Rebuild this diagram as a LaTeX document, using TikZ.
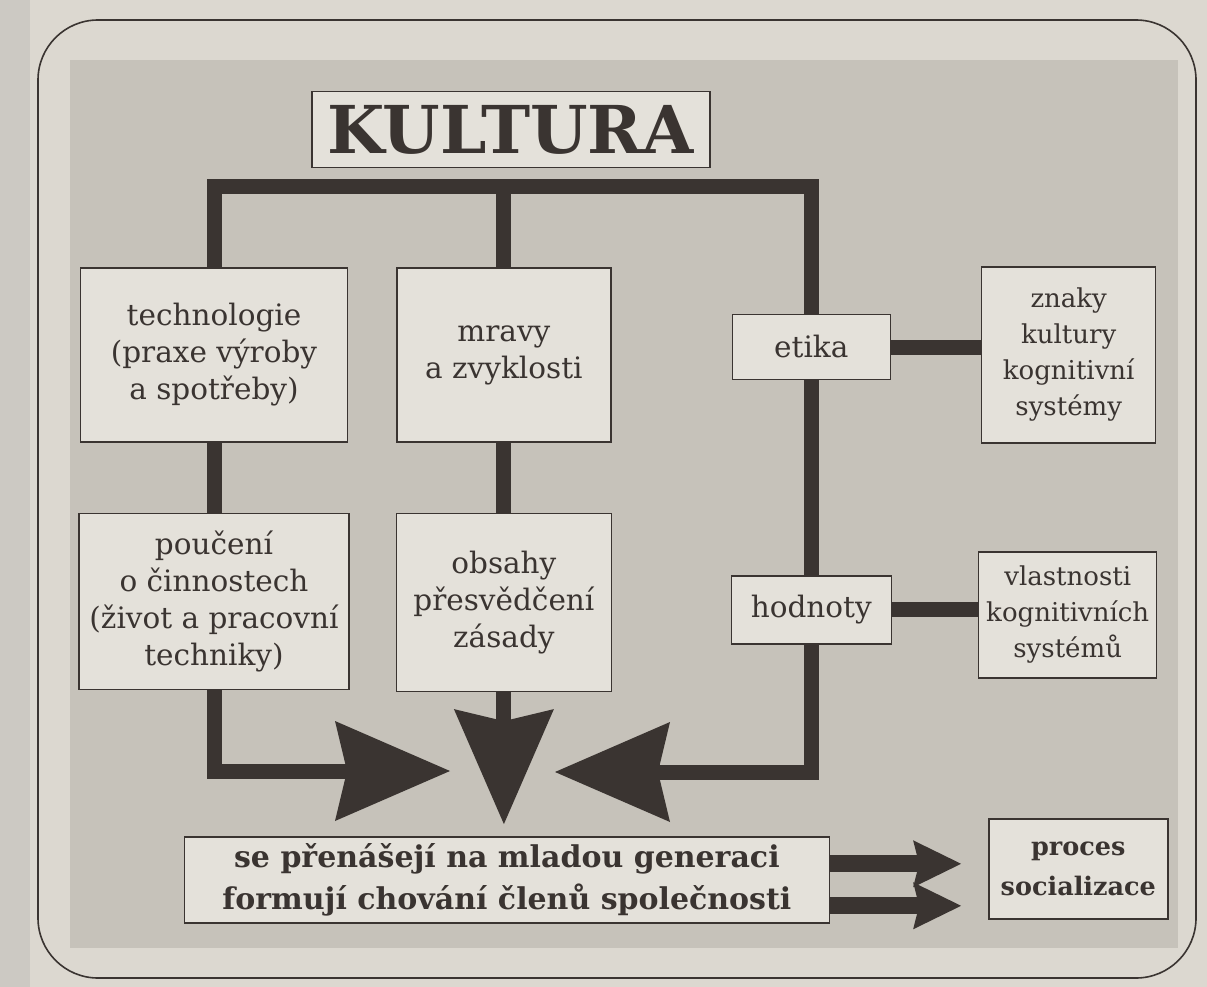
\documentclass[tikz,border=0pt]{standalone}
\usepackage{fontspec}
\setmainfont{DejaVu Serif}
\usetikzlibrary{arrows.meta, positioning}

\definecolor{ink}{HTML}{3A3431}
\definecolor{paper}{HTML}{DCD8D0}
\definecolor{pageedge}{HTML}{CCC9C3}
\definecolor{screen}{HTML}{C6C2BA}
\definecolor{boxfill}{HTML}{E4E1DA}

\begin{document}
\begin{tikzpicture}[
      x=1pt, y=1pt,
      node distance=70pt,
      box/.style={
          rectangle,
          draw=ink,
          line width=1.4pt,
          fill=boxfill,
          text=ink,
          align=center,
          inner sep=0pt,
          font=\fontsize{29.5}{37}\selectfont
        },
      smallbox/.style={
          box,
          font=\fontsize{26}{36}\selectfont
        },
      boldbox/.style={
          box,
          font=\fontsize{30}{42}\selectfont\bfseries
        },
      bar/.style={
          draw=ink,
          line width=15pt
        },
      bigarrow/.style={
          bar,
          -{Stealth[length=115pt, width=100pt, inset=12pt, line width=0pt]}
        },
      twinarrow/.style={
          draw=ink,
          line width=17pt,
          -{Stealth[length=48pt, width=47pt, inset=6pt, line width=0pt]}
        }
    ]
    \useasboundingbox (0,0) rectangle (1207,-987);

    % Page and frame
    \fill[paper] (0,0) rectangle (1207,-987);
    \fill[pageedge] (0,0) rectangle (30,-987);
    \fill[screen] (70,-60) rectangle (1178,-948);
    \draw[ink, line width=1.6pt, rounded corners=60pt] (38,-20) rectangle (1196,-978);

    % Left column
    \node[box, minimum width=267pt, minimum height=174pt] (tech) at (214,-355) {technologie\\(praxe výroby\\a spotřeby)};
    \node[box, below=of tech, minimum width=270pt, minimum height=176pt] (pouceni) {poučení\\o činnostech\\(život a pracovní\\techniky)};

    % Middle column
    \node[box, right=48pt of tech, minimum width=214pt, minimum height=174pt] (mravy) {mravy\\a zvyklosti};
    \node[box, below=of mravy, minimum width=215pt, minimum height=178pt] (obsahy) {obsahy\\přesvědčení\\zásady};
    \node[box, above=99pt of mravy, xshift=7pt, minimum width=398pt, minimum height=76pt,
          font=\fontsize{66}{70}\selectfont\bfseries] (kultura) {KULTURA};

    % Right column
    \node[box, right=120pt of mravy, yshift=8pt, minimum width=158pt, minimum height=65pt] (etika) {etika};
    \node[box, below=195pt of etika, minimum width=160pt, minimum height=68pt] (hodnoty) {hodnoty};
    \node[smallbox, right=90pt of etika, yshift=-8pt, minimum width=174pt, minimum height=176pt] (znaky) {znaky\\kultury\\kognitivní\\systémy};
    \node[smallbox, right=86pt of hodnoty, yshift=-5pt, minimum width=178pt, minimum height=126pt] (vlastnosti) {vlastnosti\\kognitivních\\systémů};

    % Bottom
    \node[boldbox, below=144pt of obsahy, xshift=3pt, minimum width=645pt, minimum height=86pt] (prenos) {se přenášejí na mladou generaci\\formují chování členů společnosti};
    \node[boldbox, right=158pt of prenos, yshift=11pt, minimum width=179pt, minimum height=100pt,
          font=\fontsize{25.5}{40}\selectfont\bfseries] (proces) {proces\\socializace};

    % Points
    \coordinate[above=81pt of mravy] (bar);
    \coordinate[below=132pt of obsahy] (tipM);
    \coordinate (tipL) at (450,-771);
    \coordinate (tipR) at (555,-772);

    % Top bar
    \draw[bar] (tech.north) -- (tech.north |- bar) -| (etika.north);
    \draw[bar] (mravy.north) -- (bar);

    % Columns
    \draw[bar] (tech.south) -- (pouceni.north);
    \draw[bar] (mravy.south) -- (obsahy.north);
    \draw[bar] (etika.south) -- (hodnoty.north);
    \draw[bar] (etika.east) -- (etika.east -| znaky.west);
    \draw[bar] (hodnoty.east) -- (hodnoty.east -| vlastnosti.west);

    % Arrows
    \draw[bigarrow] (pouceni.south) |- (tipL);
    \draw[bigarrow] (obsahy.south) -- (tipM);
    \draw[bigarrow] (hodnoty.south) |- (tipR);
    \draw[twinarrow, shorten >=27pt] ([yshift=16pt]prenos.east) -- ([yshift=16pt]prenos.east -| proces.west);
    \draw[twinarrow, shorten >=27pt] ([yshift=-26pt]prenos.east) -- ([yshift=-26pt]prenos.east -| proces.west);
  \end{tikzpicture}
\end{document}
